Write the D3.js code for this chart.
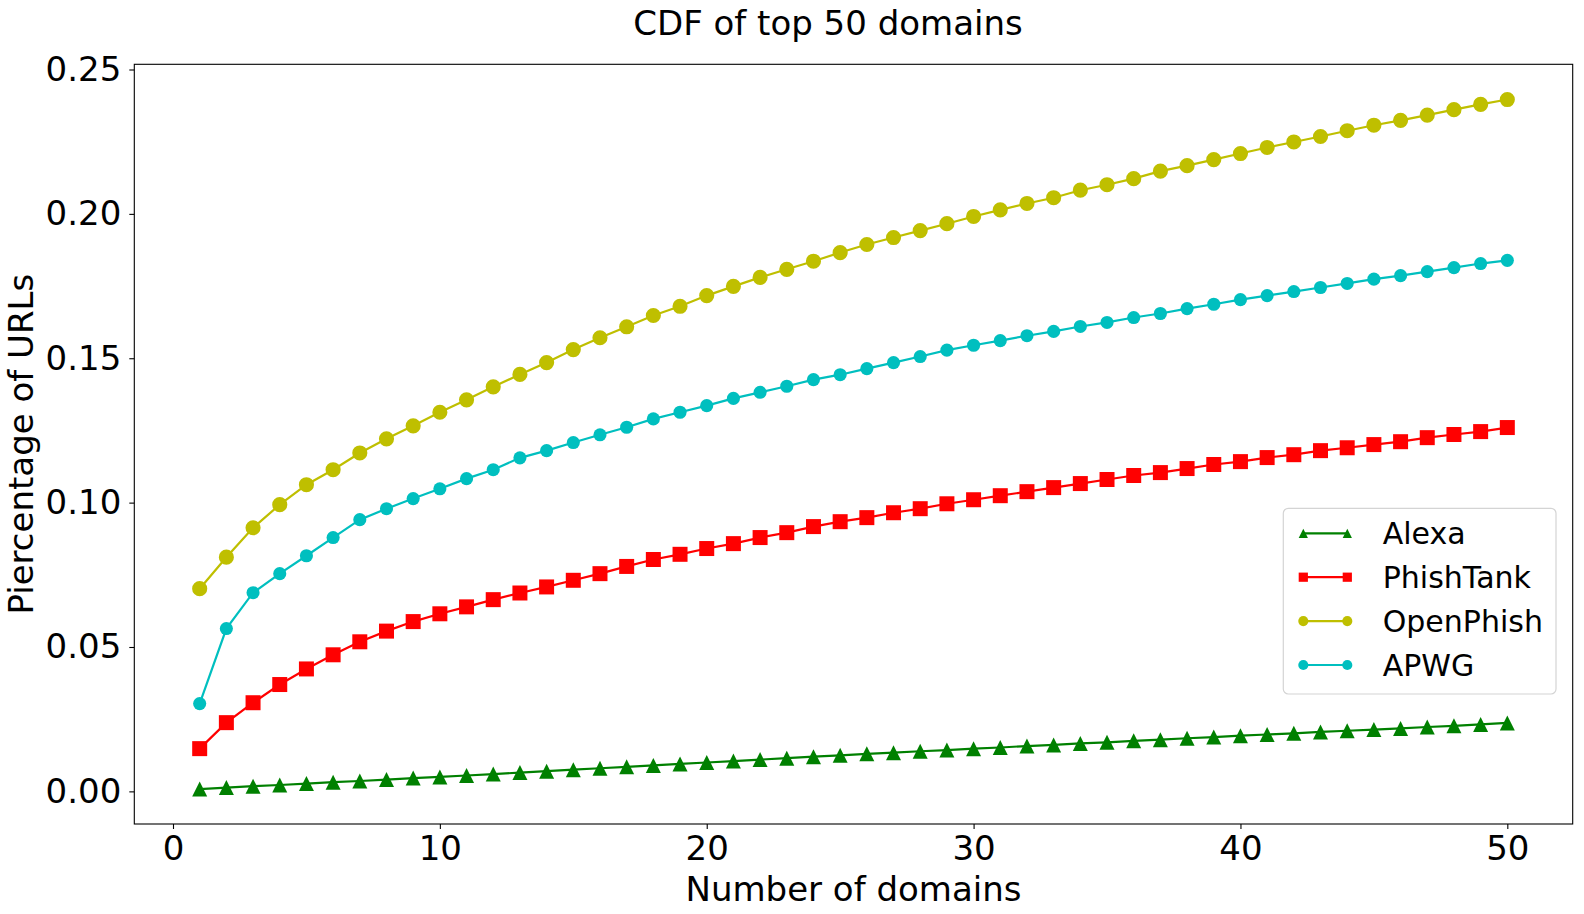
<!DOCTYPE html>
<html>
<head>
<meta charset="utf-8">
<script src="https://cdn.jsdelivr.net/npm/d3@7"></script>
<style>
  body { margin: 0; background: #fff; }
  svg { display: block; font-family: "DejaVu Sans", sans-serif; }
</style>
</head>
<body>
<div id="chart"></div>
<script>
// values
const domains = d3.range(1, 51);

const alexa = [
  0.0008, 0.0013, 0.0018, 0.0022, 0.0027, 0.0032, 0.0036, 0.0041, 0.0046, 0.0050,
  0.0055, 0.0060, 0.0065, 0.0070, 0.0075, 0.0080, 0.0085, 0.0090, 0.0095, 0.0100,
  0.0105, 0.0110, 0.0115, 0.0120, 0.0125, 0.0130, 0.0134, 0.0139, 0.0143, 0.0148,
  0.0152, 0.0157, 0.0161, 0.0166, 0.0170, 0.0175, 0.0179, 0.0184, 0.0188, 0.0193,
  0.0197, 0.0201, 0.0206, 0.0210, 0.0214, 0.0218, 0.0223, 0.0227, 0.0232, 0.0237
];

const phishTank = [
  0.0148, 0.0238, 0.0307, 0.0370, 0.0424, 0.0473, 0.0518, 0.0555, 0.0588, 0.0615,
  0.0639, 0.0664, 0.0687, 0.0708, 0.0731, 0.0754, 0.0779, 0.0803, 0.0821, 0.0841,
  0.0858, 0.0879, 0.0896, 0.0917, 0.0934, 0.0948, 0.0965, 0.0979, 0.0996, 0.1010,
  0.1024, 0.1038, 0.1052, 0.1066, 0.1080, 0.1094, 0.1104, 0.1118, 0.1132, 0.1142,
  0.1156, 0.1166, 0.1180, 0.1190, 0.1201, 0.1211, 0.1225, 0.1236, 0.1246, 0.1260
];

const openPhish = [
  0.0702, 0.0811, 0.0913, 0.0993, 0.1062, 0.1114, 0.1172, 0.1221, 0.1266, 0.1313,
  0.1356, 0.1401, 0.1444, 0.1485, 0.1530, 0.1571, 0.1609, 0.1648, 0.1680, 0.1717,
  0.1749, 0.1780, 0.1808, 0.1836, 0.1866, 0.1894, 0.1918, 0.1942, 0.1966, 0.1991,
  0.2014, 0.2036, 0.2056, 0.2082, 0.2101, 0.2122, 0.2148, 0.2167, 0.2188, 0.2209,
  0.2230, 0.2249, 0.2268, 0.2288, 0.2307, 0.2324, 0.2342, 0.2361, 0.2379, 0.2396
];

const apwg = [
  0.0304, 0.0564, 0.0688, 0.0754, 0.0816, 0.0879, 0.0941, 0.0979, 0.1014, 0.1048,
  0.1083, 0.1114, 0.1155, 0.1180, 0.1208, 0.1235, 0.1261, 0.1290, 0.1313, 0.1336,
  0.1361, 0.1382, 0.1403, 0.1426, 0.1443, 0.1464, 0.1485, 0.1506, 0.1528, 0.1545,
  0.1561, 0.1578, 0.1593, 0.1610, 0.1624, 0.1641, 0.1655, 0.1672, 0.1687, 0.1703,
  0.1717, 0.1731, 0.1745, 0.1759, 0.1774, 0.1786, 0.1800, 0.1814, 0.1828, 0.1839
];

const xTicks = [0, 10, 20, 30, 40, 50];
const yTicks = [0, 0.05, 0.10, 0.15, 0.20, 0.25];

// triangle centred on its bounding box, like matplotlib's '^'
const triangleUp = {
  draw(ctx, size) {
    const r = Math.sqrt(size) / 2;
    ctx.moveTo(0, -r);
    ctx.lineTo(r, r);
    ctx.lineTo(-r, r);
    ctx.closePath();
  }
};

const series = [
  { name: 'Alexa',     values: alexa,     color: '#008000', symbol: triangleUp,      size: 225, legendSize: 85 },
  { name: 'PhishTank', values: phishTank, color: '#ff0000', symbol: d3.symbolSquare, size: 225, legendSize: 85 },
  { name: 'OpenPhish', values: openPhish, color: '#bfbf00', symbol: d3.symbolCircle, size: 180, legendSize: 80 },
  { name: 'APWG',      values: apwg,      color: '#00bfbf', symbol: d3.symbolCircle, size: 135, legendSize: 80 }
];

const W = 1584, H = 914;
const plotL = 134.3, plotR = 1572.7, plotT = 64.3, plotB = 824;

const svg = d3.select('#chart').append('svg')
  .attr('width', W)
  .attr('height', H);

const x = d3.scaleLinear().domain([-1.45, 52.45]).range([plotL, plotR]);
const y = d3.scaleLinear().domain([-0.0113, 0.2518]).range([plotB, plotT]);

// axes
const xAxis = svg.append('g')
  .attr('transform', `translate(0,${plotB})`)
  .call(d3.axisBottom(x).tickValues(xTicks).tickSize(5).tickPadding(7).tickFormat(d3.format('d')));
const yAxis = svg.append('g')
  .attr('transform', `translate(${plotL},0)`)
  .call(d3.axisLeft(y).tickValues(yTicks).tickSize(5).tickPadding(8).tickFormat(d3.format('.2f')));

[xAxis, yAxis].forEach(a => {
  a.select('.domain').remove();
  a.selectAll('.tick line').attr('stroke', '#000').attr('stroke-width', 1.1);
  a.selectAll('.tick text')
    .attr('fill', '#000')
    .style('font-size', '34px')
    .style('font-family', '"DejaVu Sans", sans-serif');
});

// spines
svg.append('rect')
  .attr('x', plotL).attr('y', plotT)
  .attr('width', plotR - plotL).attr('height', plotB - plotT)
  .attr('fill', 'none')
  .attr('stroke', '#000')
  .attr('stroke-width', 1.1);

// lines + markers
const line = d3.line()
  .x((d, i) => x(domains[i]))
  .y(d => y(d));

series.forEach(s => {
  const g = svg.append('g');
  g.append('path')
    .datum(s.values)
    .attr('fill', 'none')
    .attr('stroke', s.color)
    .attr('stroke-width', 2.2)
    .attr('d', line);
  g.selectAll('path.mk')
    .data(s.values)
    .join('path')
    .attr('class', 'mk')
    .attr('transform', (d, i) => `translate(${x(domains[i])},${y(d)})`)
    .attr('fill', s.color)
    .attr('d', d3.symbol().type(s.symbol).size(s.size));
});

// title and axis labels
svg.append('text')
  .attr('x', 828).attr('y', 35)
  .attr('text-anchor', 'middle')
  .style('font-size', '34px')
  .text('CDF of top 50 domains');

svg.append('text')
  .attr('x', (plotL + plotR) / 2).attr('y', 901)
  .attr('text-anchor', 'middle')
  .style('font-size', '34px')
  .text('Number of domains');

svg.append('text')
  .attr('transform', `translate(33,${(plotT + plotB) / 2}) rotate(-90)`)
  .attr('text-anchor', 'middle')
  .style('font-size', '34px')
  .text('Piercentage of URLs');

// legend
const legend = svg.append('g').attr('transform', 'translate(1283.3,508.3)');
legend.append('rect')
  .attr('width', 272.7).attr('height', 185.7)
  .attr('rx', 5)
  .attr('fill', '#fff').attr('fill-opacity', 0.8)
  .attr('stroke', '#d4d4d4').attr('stroke-width', 1.2);

const rows = legend.selectAll('g.row')
  .data(series)
  .join('g')
  .attr('class', 'row')
  .attr('transform', (d, i) => `translate(0,${25 + i * 43.9})`);

rows.append('line')
  .attr('x1', 20).attr('x2', 64)
  .attr('stroke', d => d.color)
  .attr('stroke-width', 2.2);
rows.each(function (d) {
  d3.select(this).selectAll('path')
    .data([20, 64])
    .join('path')
    .attr('transform', px => `translate(${px},0)`)
    .attr('fill', d.color)
    .attr('d', d3.symbol().type(d.symbol).size(d.legendSize));
});
rows.append('text')
  .attr('x', 99.4)
  .attr('dy', '0.36em')
  .style('font-size', '30px')
  .text(d => d.name);
</script>
</body>
</html>
